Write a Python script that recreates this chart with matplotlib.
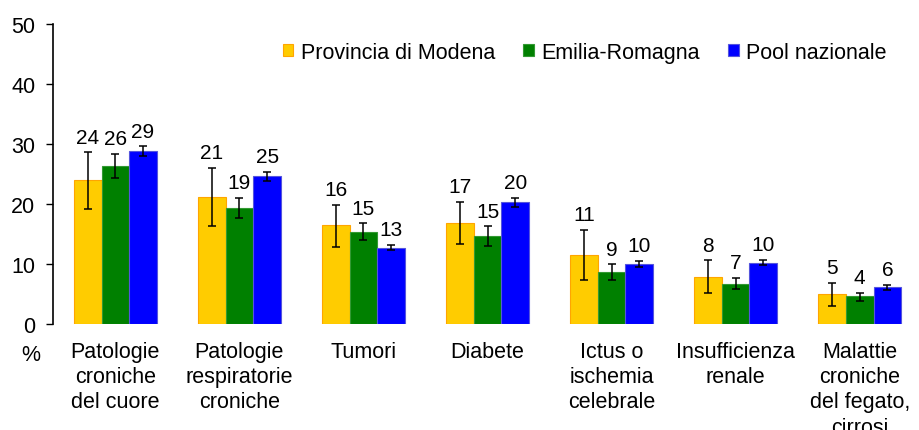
import numpy as np
import matplotlib
matplotlib.use("Agg")
import matplotlib.pyplot as plt

plt.rcParams['font.family'] = ['Liberation Sans', 'DejaVu Sans']

# dati
categorie = ['Patologie\ncroniche\ndel cuore', 'Patologie\nrespiratorie\ncroniche', 'Tumori',
             'Diabete', 'Ictus o\nischemia\ncelebrale', 'Insufficienza\nrenale',
             'Malattie\ncroniche\ndel fegato,\ncirrosi']
serie = ['Provincia di Modena', 'Emilia-Romagna', 'Pool nazionale']
modena = [24.0, 21.1, 16.5, 16.9, 11.5, 7.9, 5.0]
modena_lo = [19.2, 16.3, 12.9, 13.4, 7.3, 5.2, 3.05]
modena_hi = [28.6, 26.0, 19.9, 20.4, 15.7, 10.6, 6.9]
emilia = [26.3, 19.4, 15.4, 14.7, 8.6, 6.7, 4.6]
emilia_lo = [24.3, 17.7, 14.0, 13.05, 7.3, 5.8, 3.8]
emilia_hi = [28.4, 21.05, 16.8, 16.3, 9.95, 7.7, 5.2]
pool = [28.8, 24.6, 12.7, 20.3, 9.95, 10.2, 6.1]
pool_lo = [28.05, 23.9, 12.3, 19.55, 9.45, 9.8, 5.7]
pool_hi = [29.6, 25.4, 13.2, 21.05, 10.55, 10.7, 6.55]
etichette = [[24, 21, 16, 17, 11, 8, 5],
             [26, 19, 15, 15, 9, 7, 4],
             [29, 25, 13, 20, 10, 10, 6]]

colori = ['#FFCC00', '#008000', '#0000FF']
bordi = ['#FFA500', '#339933', '#5555DD']
fs = 15.5

fig = plt.figure(figsize=(9.19, 4.31), dpi=100)
ax = fig.add_axes([0.058, 0.246, 0.945, 0.696])

x = np.arange(len(categorie))
w = 0.223
valori = [modena, emilia, pool]
bassi = [modena_lo, emilia_lo, pool_lo]
alti = [modena_hi, emilia_hi, pool_hi]
for i in range(3):
    v = np.array(valori[i])
    lo = v - np.array(bassi[i])
    hi = np.array(alti[i]) - v
    pos = x + (i - 1) * w
    ax.bar(pos, v, width=w, color=colori[i], edgecolor=bordi[i], linewidth=0.8,
           label=serie[i], zorder=2)
    ax.errorbar(pos, v, yerr=[lo, hi], fmt='none', ecolor='black', elinewidth=1.1,
                capsize=3, capthick=1.1, zorder=3)
    for p, top, lab in zip(pos, alti[i], etichette[i]):
        ax.annotate(str(lab), (p, top), xytext=(0, 4), textcoords='offset points',
                    ha='center', va='bottom', fontsize=15)

ax.set_ylim(0, 50)
ax.set_xlim(-0.5, 6.5)
ax.set_yticks(range(0, 51, 10))
ax.tick_params(axis='y', labelsize=fs, direction='out', length=5, width=1, pad=8)
ax.set_xticks(x)
ax.set_xticklabels(categorie, fontsize=fs, linespacing=1.27)
ax.tick_params(axis='x', length=0, pad=12)
for s in ['top', 'right', 'bottom']:
    ax.spines[s].set_visible(False)
ax.spines['left'].set_linewidth(1.2)

fig.text(0.034, 0.176, '%', fontsize=fs, ha='center', va='center')

ax.legend(loc='upper right', bbox_to_anchor=(0.982, 1.005), ncol=3, frameon=False,
          fontsize=fs, handlelength=0.5, handleheight=0.5, handletextpad=0.35,
          columnspacing=1.3)

fig.savefig('out.png', dpi=100)
